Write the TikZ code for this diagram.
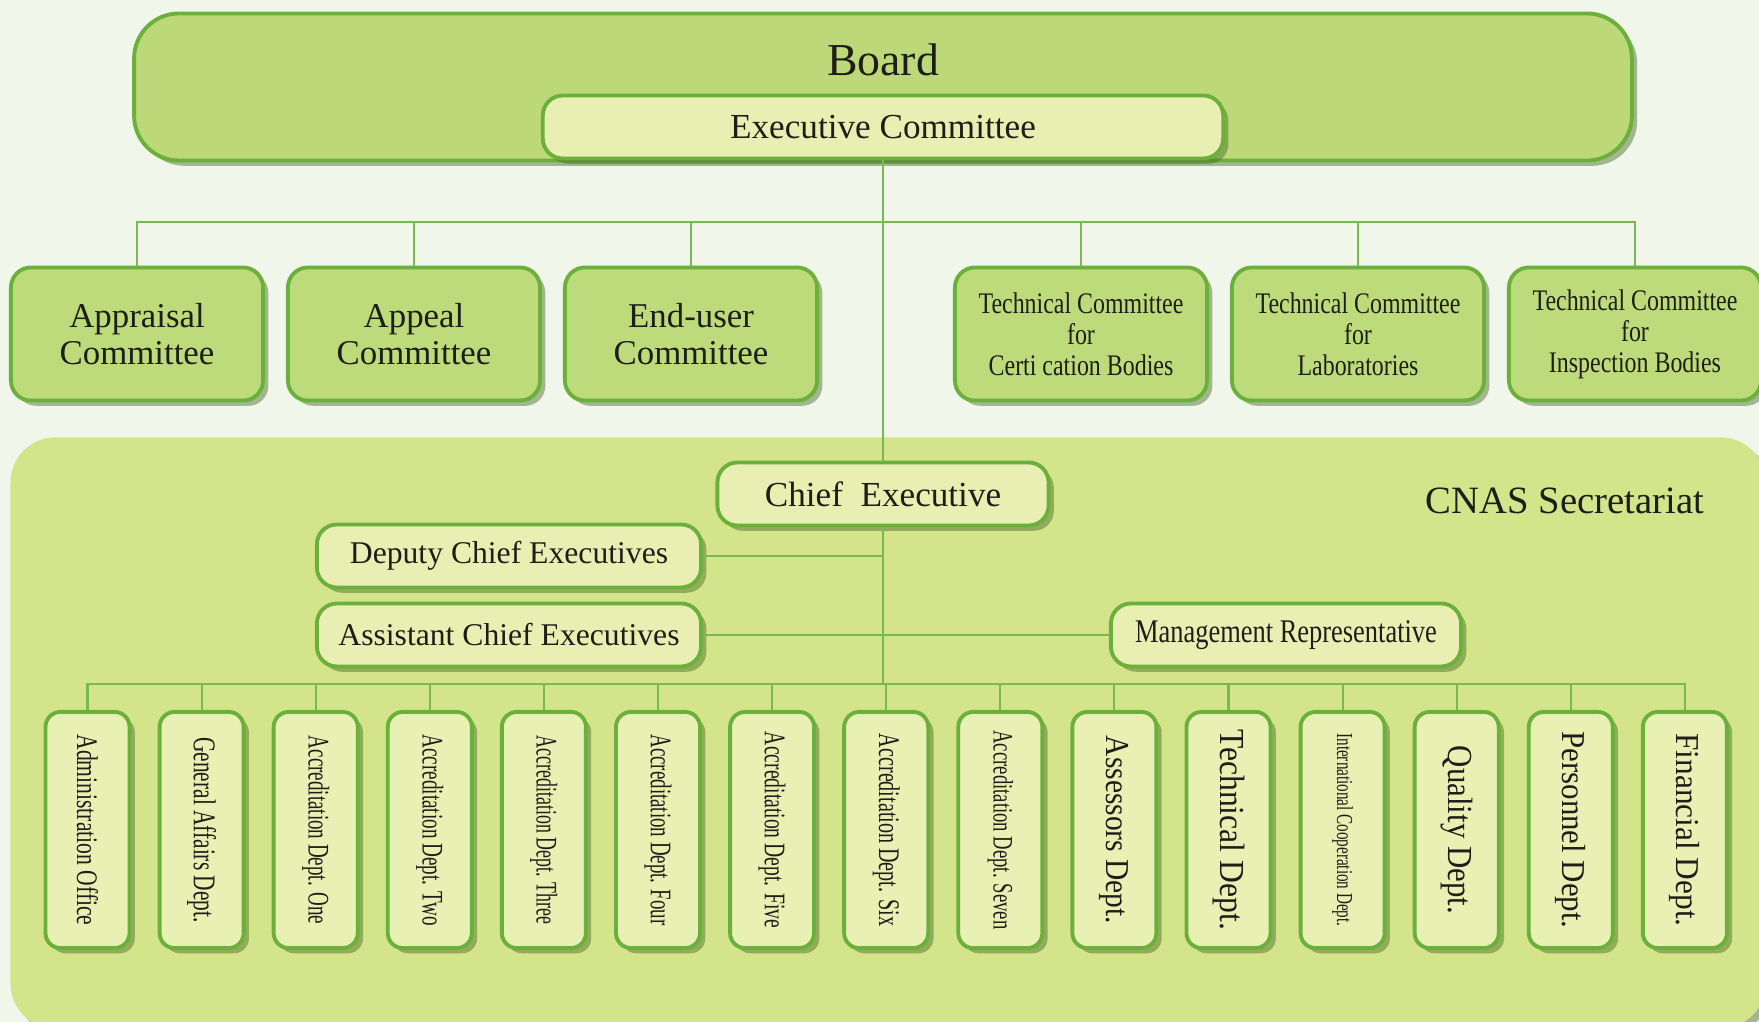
\documentclass[tikz,border=0pt]{standalone}
\usepackage{fontspec}
\setmainfont{Liberation Serif}
\newfontfamily\narrowfont[FakeStretch=0.8]{Liberation Serif}
\usepackage{graphicx}
\usetikzlibrary{calc}
\usetikzlibrary{positioning}
\usetikzlibrary{shadows}
\definecolor{bgcol}{RGB}{241,246,234}
\definecolor{boardfill}{RGB}{189,216,120}
\definecolor{boxline}{RGB}{108,176,60}
\definecolor{lightfill}{RGB}{233,239,178}
\definecolor{cmtefill}{RGB}{190,219,124}
\definecolor{secfill}{RGB}{212,228,138}
\definecolor{deptfill}{RGB}{232,240,180}
\definecolor{linkcol}{RGB}{120,185,80}
\definecolor{shadowcol}{RGB}{70,105,38}
\definecolor{txtcol}{RGB}{30,30,25}
\tikzstyle{orgbox} = [draw=boxline, line width=1.1pt, rounded corners=0.2cm, align=center, inner sep=0pt, text=txtcol, drop shadow={shadow xshift=1.5pt, shadow yshift=-1.5pt, fill=shadowcol, opacity=0.45}]
\tikzstyle{cmtenode} = [orgbox, fill=cmtefill, minimum width=2.52cm, minimum height=1.33cm, font=\fontsize{9.9}{10.5}\selectfont]
\tikzstyle{tcnode} = [cmtenode, font=\narrowfont\fontsize{8.5}{8.8}\selectfont]
\tikzstyle{lightnode} = [orgbox, fill=lightfill, minimum height=0.63cm]
\tikzstyle{deptnode} = [orgbox, fill=deptfill, rounded corners=0.15cm, minimum width=0.84cm, minimum height=2.36cm]
\tikzstyle{link} = [draw=linkcol, line width=0.6pt]
\newcommand{\depttext}[3]{\rotatebox{-90}{\resizebox{#1}{\height}{\fontsize{#2}{#2}\selectfont #3}}}

\begin{document}
\begin{tikzpicture}[x=0.01cm, y=-0.01cm]
    \fill[bgcol] (0,0) rectangle (1759,1022);
    \useasboundingbox (0,0) rectangle (1759,1022);

    \node[orgbox, fill=boardfill, rounded corners=0.45cm, minimum width=14.97cm, minimum height=1.47cm] (board) at (883,87) {};
    \node[text=txtcol, font=\fontsize{13}{13}\selectfont] (board_title) at (883,60) {Board};
    \node[lightnode, minimum width=6.8cm, font=\fontsize{10}{10}\selectfont] (exec_cmte) at (883,127) {Executive Committee};

    \node[cmtenode] (apr_cmte) at (137,334) {Appraisal\\Committee};
    \node[cmtenode] (apl_cmte) at ($(apr_cmte)+(277,0)$) {Appeal\\Committee};
    \node[cmtenode] (end_cmte) at ($(apl_cmte)+(277,0)$) {End-user\\Committee};
    \node[tcnode] (tc_cert) at ($(end_cmte)+(390,0)$) {Technical Committee\\for\\Certi cation Bodies};
    \node[tcnode] (tc_lab) at ($(tc_cert)+(277,0)$) {Technical Committee\\for\\Laboratories};
    \node[tcnode] (tc_insp) at ($(tc_lab)+(277,0)$) {Technical Committee\\for\\Inspection Bodies};

    \node[orgbox, draw=none, fill=secfill, rounded corners=0.45cm, minimum width=17.54cm, minimum height=5.91cm] (secretariat) at (888,733) {};
    \node[text=txtcol, font=\fontsize{11}{11}\selectfont] (sec_title) at (1565,501) {CNAS Secretariat};

    \node[lightnode, minimum width=3.31cm, font=\fontsize{10}{10}\selectfont] (chief_exec) at (883,494) {Chief~~Executive};
    \node[lightnode, minimum width=3.84cm, font=\fontsize{9}{9}\selectfont] (dep_chief) at (509,556) {Deputy Chief Executives};
    \node[lightnode, minimum width=3.84cm, font=\fontsize{9}{9}\selectfont] (ast_chief) at ($(dep_chief)+(0,79)$) {Assistant Chief Executives};
    \node[lightnode, minimum width=3.50cm, font=\narrowfont\fontsize{9.4}{9.4}\selectfont] (mgmt_rep) at (1286,635) {Management Representative};

    \coordinate (cmte_bus) at (883,222);
    \coordinate (dept_bus) at (883,684);

    \node[deptnode] (dept_1) at (87.5,830) {\depttext{1.91cm}{8.5}{Administration Office}};
    \node[deptnode] (dept_2) at ($(dept_1)+(114.1,0)$) {\depttext{1.85cm}{9}{General Affairs Dept.}};
    \node[deptnode] (dept_3) at ($(dept_2)+(114.1,0)$) {\depttext{1.88cm}{8.5}{Accreditation Dept. One}};
    \node[deptnode] (dept_4) at ($(dept_3)+(114.1,0)$) {\depttext{1.91cm}{8.5}{Accreditation Dept. Two}};
    \node[deptnode] (dept_5) at ($(dept_4)+(114.1,0)$) {\depttext{1.88cm}{8.5}{Accreditation Dept. Three}};
    \node[deptnode] (dept_6) at ($(dept_5)+(114.1,0)$) {\depttext{1.91cm}{8.5}{Accreditation Dept. Four}};
    \node[deptnode] (dept_7) at ($(dept_6)+(114.1,0)$) {\depttext{1.96cm}{8.5}{Accreditation Dept. Five}};
    \node[deptnode] (dept_8) at ($(dept_7)+(114.1,0)$) {\depttext{1.92cm}{8.5}{Accreditation Dept. Six}};
    \node[deptnode] (dept_9) at ($(dept_8)+(114.1,0)$) {\depttext{1.99cm}{8}{Accreditation Dept. Seven}};
    \node[deptnode] (dept_10) at ($(dept_9)+(114.1,0)$) {\depttext{1.88cm}{9.5}{Assessors Dept.}};
    \node[deptnode] (dept_11) at ($(dept_10)+(114.1,0)$) {\depttext{2.00cm}{10}{Technical Dept.}};
    \node[deptnode] (dept_12) at ($(dept_11)+(114.1,0)$) {\depttext{1.93cm}{6.5}{International Cooperation Dept.}};
    \node[deptnode] (dept_13) at ($(dept_12)+(114.1,0)$) {\depttext{1.68cm}{10}{Quality Dept.}};
    \node[deptnode] (dept_14) at ($(dept_13)+(114.1,0)$) {\depttext{1.97cm}{9.5}{Personnel Dept.}};
    \node[deptnode] (dept_15) at ($(dept_14)+(114.1,0)$) {\depttext{1.93cm}{9.5}{Financial Dept.}};

    % board to secretariat
    \draw[link] (exec_cmte) -- (chief_exec);
    \draw[link] (apr_cmte.north) |- (cmte_bus) -| (tc_insp.north);
    \draw[link] (apl_cmte.north) -- (apl_cmte.north |- cmte_bus);
    \draw[link] (end_cmte.north) -- (end_cmte.north |- cmte_bus);
    \draw[link] (tc_cert.north) -- (tc_cert.north |- cmte_bus);
    \draw[link] (tc_lab.north) -- (tc_lab.north |- cmte_bus);

    % inside the secretariat
    \draw[link] (dep_chief.east) -- (dep_chief.east -| chief_exec.south);
    \draw[link] (ast_chief) -- (mgmt_rep);
    \draw[link] (chief_exec) -- (dept_bus);
    \draw[link] (dept_1.north) |- (dept_bus) -| (dept_15.north);
    \draw[link] (dept_2.north) -- (dept_2.north |- dept_bus);
    \draw[link] (dept_3.north) -- (dept_3.north |- dept_bus);
    \draw[link] (dept_4.north) -- (dept_4.north |- dept_bus);
    \draw[link] (dept_5.north) -- (dept_5.north |- dept_bus);
    \draw[link] (dept_6.north) -- (dept_6.north |- dept_bus);
    \draw[link] (dept_7.north) -- (dept_7.north |- dept_bus);
    \draw[link] (dept_8.north) -- (dept_8.north |- dept_bus);
    \draw[link] (dept_9.north) -- (dept_9.north |- dept_bus);
    \draw[link] (dept_10.north) -- (dept_10.north |- dept_bus);
    \draw[link] (dept_11.north) -- (dept_11.north |- dept_bus);
    \draw[link] (dept_12.north) -- (dept_12.north |- dept_bus);
    \draw[link] (dept_13.north) -- (dept_13.north |- dept_bus);
    \draw[link] (dept_14.north) -- (dept_14.north |- dept_bus);
\end{tikzpicture}
\end{document}
